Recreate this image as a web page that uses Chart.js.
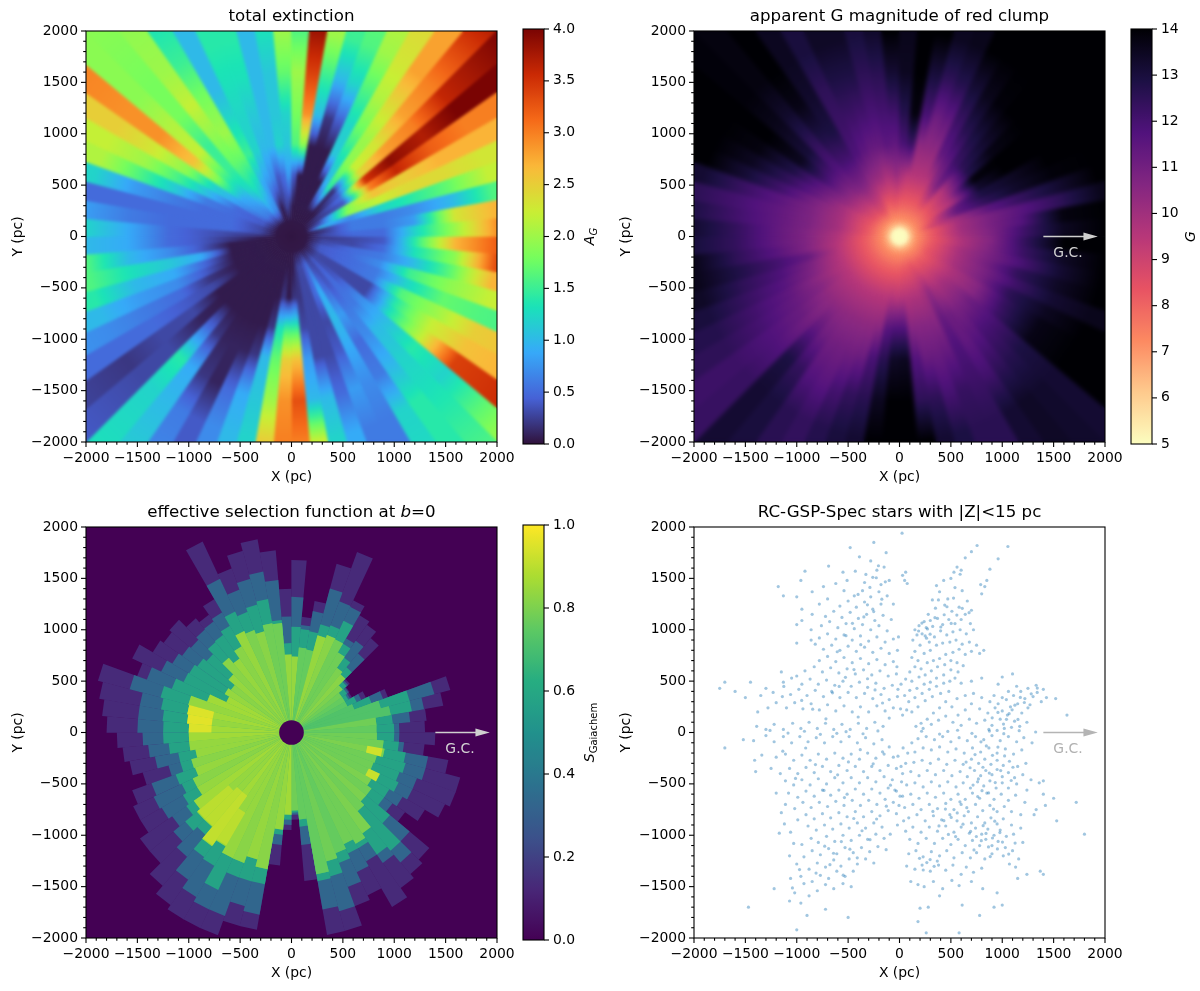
<!DOCTYPE html>
<html>
<head>
<meta charset="utf-8">
<title>Red clump maps</title>
<script src="https://cdn.jsdelivr.net/npm/chart.js@4"></script>
<style>
  body { margin: 0; background: #fff; }
  canvas { position: absolute; }
</style>
</head>
<body>
<canvas id="extinction" width="530" height="495" style="left:0;top:0"></canvas>
<canvas id="extinctionBar" width="90" height="495" style="left:510px;top:0"></canvas>
<canvas id="magnitude" width="530" height="495" style="left:608px;top:0"></canvas>
<canvas id="magnitudeBar" width="82" height="495" style="left:1118px;top:0"></canvas>
<canvas id="selection" width="530" height="495" style="left:0;top:496px"></canvas>
<canvas id="selectionBar" width="90" height="495" style="left:510px;top:496px"></canvas>
<canvas id="stars" width="530" height="495" style="left:608px;top:496px"></canvas>
<script>
// one value per 5 degree sector, counter-clockwise from +X
const sectorAngles = Array.from({ length: 72 }, (_, i) => 2.5 + 5 * i);

// total extinction A_G read along each sector
const extinctionAt300 = [.3,.2,.2,1,.4,.3,.2,.2,.05,.05,.05,.05, .05,.05,.05,.05,.05,.05,.2,.3,.2,.05,.2,.7, .7,.8,.6,.6,.6,.5,.4,.4,.3,.3,.3,.2, .05,.05,.05,.05,.05,.05,.05,.05,.05,.05,.05,.05, .05,.05,.05,.05,.05,.05,.05,.2,.3,.3,.4,.5, .3,.3,.4,.3,.3,.3,.4,.4,.4,.3,.3,.2];
const extinctionAt600 = [.5,.6,.6,.7,1.9,1.8,.4,.5,.4,.2,1.4,.9, .05,.05,.05,.05,.05,.4,.8,.5,.4,.7,.8,.9, 1.2,1.3,1.2,1,.9,.8,.5,.5,.5,.5,.5,.3, .2,.05,.05,.05,.05,.05,.05,.05,.05,.05,.05,.05, .05,.05,.05,.05,.2,.05,.2,.2,.3,.3,.5,.9, .5,.4,.5,.4,.3,.3,.5,.5,.5,.5,.3,.3];
const extinctionAt900 = [.5,.6,.6,1.2,2.2,2.6,3,3.5,2.4,2.2,1.9,1.3, 1.1,.05,.05,.05,1.9,1.6,1.1,1.2,1,1,1.2,1.5, 1.7,1.7,1.5,1.6,1.8,1.2,1,.6,.5,.5,.5,.4, .4,.4,.9,.5,.4,.2,.3,.05,.05,.05,.05,.05, .05,.05,.05,.2,1.3,1.5,1.5,.3,.3,.3,.3,1, .8,.6,.6,.7,.3,.3,.6,.6,.7,.6,.5,.4];
const extinctionAt1200 = [1.2,.8,.7,1.4,2.4,2.5,3.6,3.9,2.8,2.3,2,1.7, 1.2,.4,.2,1,2.9,1.8,1.2,1.1,1,1.1,1.2,1.3, 2,1.9,1.5,2.2,2.6,1.9,1.5,1.1,.6,.5,.5,.5, .5,.7,1.1,.9,.7,.5,.4,.3,.1,.5,.2,.1, .1,.1,.2,1,1.7,2.5,2.6,.8,.3,.3,.4,.9, .5,.7,1,1,1.3,1.4,1.6,1.2,1.5,1,1.3,1.4];
const extinctionAt1600 = [2,2.3,1,1.7,2.4,2.7,3.2,3.7,3,2.8,2.4,2.1, 1.6,1.2,1,1.5,3.4,2,1.7,1.1,1,1.3,1.3,1, 1.8,2.2,1.8,2.1,2.9,2.3,2,1.6,.8,.5,.6,.9, .9,1,1.3,1,.8,.6,.5,.3,.3,1.4,.9,.2, .1,.5,.9,1.1,2,2.9,3.3,1,1,.5,.8,.7, .6,1,1.2,1.4,2.2,2.2,2,1.7,1.9,1.7,1.9,2.7];
const extinctionAt2000 = [2.9,2.7,1.6,2.2,2.3,2.7,3,4,3.6,3,2.8,2.3, 2,1.6,1.5,2,3.8,1.6,2,1.3,1,1.4,1.4,1, 1.5,2,1.8,1.9,2.9,2.5,2.2,2.1,1.2,.5,.8,1.2, 1,1.6,1.6,1.4,1,.7,.5,.2,.3,1.2,1,.6, .4,.7,1,1.2,2.5,3,3,2.2,1.2,.9,.6,.6, 1.2,1.4,1.3,1.2,3.4,2.6,2.5,1.6,2.2,2.7,3.3,3.2];
const extinctionAt2830 = [3,2.7,1.6,2.2,2.3,2.7,3,4,4,3.7,2.8,2.5, 2.3,1.8,1.6,2,3.8,1.6,2,1.3,1,1.4,1.4,1, 1.2,1.9,1.9,1.9,3,2.5,2.2,2.1,1.3,.6,.9,1.3, 1,1.6,1.6,1.4,1,.8,.5,.3,.4,1.3,1.2,.7, .4,.7,1,1.2,2.5,3,3,2.2,1.2,.9,.6,.6, 1.3,1.4,1.6,2,3.6,2.8,2.7,1.5,2.4,2.7,3.3,3.2];

// apparent G magnitude read along each sector
const magnitudeAt300 = [8.2,8.1,8.1,8.9,8.3,8.2,8.1,8.1,8,8,8,8, 8,8,8,8,8,8,8.1,8.2,8.1,8,8.1,8.6, 8.6,8.7,8.5,8.5,8.5,8.4,8.3,8.3,8.2,8.2,8.2,8.1, 8,8,8,8,8,8,8,8,8,8,8,8, 8,8,8,8,8,8,8.1,8.2,8.2,8.3,8.4,8.2, 8.2,8.3,8.2,8.2,8.2,8.3,8.3,8.3,8.2,8.2,8.1,8.1];
const magnitudeAt600 = [9.9,10,10,10.1,11.3,11.2,9.8,9.9,9.8,9.6,10.8,10.3, 9.5,9.5,9.5,9.5,9.5,9.8,10.2,9.9,9.8,10.1,10.2,10.3, 10.6,10.7,10.6,10.4,10.3,10.2,9.9,9.9,9.9,9.9,9.9,9.7, 9.6,9.5,9.5,9.5,9.5,9.5,9.5,9.5,9.5,9.5,9.5,9.5, 9.5,9.5,9.5,9.5,9.6,9.5,9.6,9.6,9.7,9.7,9.9,10.3, 9.9,9.8,9.9,9.8,9.7,9.7,9.9,9.9,9.9,9.9,9.7,9.7];
const magnitudeAt900 = [10.8,10.9,10.9,11.5,12.5,12.9,13.3,13.8,12.7,12.5,12.2,11.6, 11.4,10.4,10.4,10.4,12.2,11.9,11.4,11.5,11.3,11.3,11.5,11.8, 12,12,11.8,11.9,12,11.5,11.3,10.9,10.8,10.8,10.8,10.7, 10.7,10.7,11.2,10.8,10.7,10.5,10.6,10.4,10.4,10.4,10.4,10.4, 10.4,10.4,10.4,10.5,11.6,11.8,11.8,10.6,10.6,10.6,10.6,11.3, 11.1,10.9,10.9,11,10.6,10.6,10.9,10.9,11,10.9,10.8,10.7];
const magnitudeAt1200 = [12.1,11.7,11.6,12.3,13.3,13.4,14,14,13.7,13.2,12.9,12.6, 12.1,11.3,11.1,11.9,13.8,12.7,12.1,12,11.9,12,12.1,12.2, 12.9,12.8,12.4,13.1,13.5,12.8,12.4,12,11.5,11.4,11.4,11.4, 11.4,11.6,12,11.8,11.6,11.4,11.3,11.2,11,11.4,11.1,11, 11,11,11.1,11.9,12.6,13.4,13.5,11.7,11.2,11.2,11.3,11.8, 11.4,11.6,11.9,11.9,12.2,12.3,12.5,12.1,12.4,11.9,12.2,12.3];
const magnitudeAt1600 = [13.5,13.8,12.5,13.2,13.9,14,14,14,14,14,13.9,13.6, 13.1,12.7,12.5,13,14,13.5,13.2,12.6,12.5,12.8,12.8,12.5, 13.3,13.7,13.3,13.6,14,13.8,13.5,13.1,12.3,12,12.1,12.4, 12.4,12.5,12.8,12.5,12.3,12.1,12,11.8,11.8,12.9,12.4,11.7, 11.6,12,12.4,12.6,13.5,14,14,12.5,12.5,12,12.3,12.2, 12.1,12.5,12.7,12.9,13.7,13.7,13.5,13.2,13.4,13.2,13.4,14];
const magnitudeAt2000 = [14,14,13.6,14,14,14,14,14,14,14,14,14, 14,13.6,13.5,14,14,13.6,14,13.3,13,13.4,13.4,13, 13.5,14,13.8,13.9,14,14,14,14,13.2,12.5,12.8,13.2, 13,13.6,13.6,13.4,13,12.7,12.5,12.2,12.3,13.2,13,12.6, 12.4,12.7,13,13.2,14,14,14,14,13.2,12.9,12.6,12.6, 13.2,13.4,13.3,13.2,14,14,14,13.6,14,14,14,14];

// selection function: distance (pc) at which each level is lost
const selectionReach13 = [1300,1320,1500,1600,1000,800,680,690,740,1200,1280,1320, 1420,1870,1700,1300,1130,1680,1400,1780,1910,1830,1700,2050, 1500,1400,1450,1550,1520,1560,1710,1600,1950,1900,1850,1800, 1700,1650,1600,1500,1650,1700,1700,1800,1800,1950,2050,2100, 2100,2100,1950,1950,1300,950,850,1450,2000,2000,1800,1750, 1960,1850,1800,1750,1350,1500,1650,1700,1700,1550,1300,1400];
const selectionReach33 = [1050,1160,1310,1440,950,750,660,680,720,1005,1090,1060, 1350,1360,1450,1200,1050,1320,1130,1490,1590,1550,1480,1650, 1350,1320,1310,1280,1300,1340,1400,1500,1630,1500,1500,1500, 1450,1400,1350,1240,1450,1480,1460,1420,1500,1580,1750,1850, 1900,1900,1750,1800,1100,900,800,1100,1750,1800,1600,1500, 1450,1550,1650,1500,1200,1250,1300,1300,1350,1350,1100,1050];
const selectionReach58 = [1000,990,1190,1190,830,700,640,660,700,830,890,1000, 1200,1110,1090,1000,1010,1030,870,1100,1320,1290,1250,1300, 1200,1160,1150,1080,1120,1150,1160,1240,1320,1290,1260,1250, 1250,1200,1120,1120,1200,1180,1220,1250,1350,1300,1480,1500, 1690,1500,1500,1500,1000,850,780,920,1470,1450,1350,1300, 1300,1450,1500,1250,1100,1100,1150,1120,1150,1130,1050,1000];
const selectionReach72 = [830,830,980,900,650,600,600,600,650,740,770,900, 1000,1010,980,820,830,740,760,1070,1080,1020,1060,1090, 970,880,950,800,720,750,700,875,1040,1030,1020,1000, 1000,1000,950,1010,1000,1060,1060,1160,1200,1200,1350,1280, 1350,1350,1280,1350,950,800,760,850,1400,1300,1250,1200, 1250,1200,1000,950,950,900,850,850,860,920,900,830];
const selectionInner = [.76,.78,.72,.72,.72,.74,.76,.78,.8,.82,.8,.78, .78,.82,.84,.76,.76,.84,.84,.78,.78,.82,.8,.84, .82,.84,.82,.84,.82,.84,.86,.86,.84,.86,.84,.86, .86,.84,.84,.82,.84,.82,.84,.86,.84,.84,.86,.84, .84,.82,.84,.82,.84,.86,.78,.76,.76,.78,.76,.78, .78,.8,.78,.8,.78,.8,.78,.78,.78,.8,.78,.78];
const selectionOuterLevels = [.13, .33, .58, .72];
// the few brighter patches
const patchSector = [33, 34, 35, 69, 66, 44, 45, 46, 47];
const patchFrom = [780, 780, 780, 750, 830, 800, 750, 750, 900];
const patchTo = [1030, 1020, 1000, 900, 950, 1190, 1190, 1340, 1270];
const patchLevel = [.95, .96, .95, .93, .92, .9, .9, .91, .9];
const selectionHole = 120;

// arrow towards the galactic centre
const arrowLineX = [1400, 1800];
const arrowLineY = [0, 0];
const arrowHeadX = [1790, 1930, 1790];
const arrowHeadY = [38, 0, -38];
const arrowTextX = 1640;
const arrowTextY = -165;

// RC-GSP-Spec stars, x,y pairs per quadrant (pc)
const starsNE = [25,1940,755,1820,1055,1810,700,1760,960,1690,640,1700,560,1610,600,1580,530,1560,590,1540,60,1560,30,1530,50,1480,75,1450,880,1590,850,1480,830,1420,800,1350,790,1440,500,1500,430,1480,360,1430,320,1290,390,1370,470,1300,540,1410,610,1380,660,1280,700,1190,640,1150,580,1220,510,1180,440,1240,350,1210,280,1150,240,1080,190,1040,150,1000,130,900,170,950,220,960,260,1020,300,1090,370,1110,420,1050,480,1100,540,1060,600,1100,690,1060,720,1000,650,960,590,1000,520,980,460,950,400,990,340,930,290,880,250,940,200,850,150,790,120,730,180,700,240,770,300,800,360,850,420,870,490,880,550,900,610,860,680,880,750,850,820,800,780,770,700,790,640,760,580,810,520,780,450,760,390,720,330,700,270,680,210,620,150,640,100,590,60,520,120,500,190,540,250,560,310,600,370,640,440,660,500,700,560,680,620,650,570,590,500,610,430,560,360,530,300,490,240,470,170,430,100,410,50,360,90,300,150,340,220,380,290,420,360,450,430,480,490,500,540,530,600,480,180,250,120,200,70,220,250,310,320,350,400,380,480,400,700,500,800,530,960,470,1000,540,1100,570,560,330,640,360,720,380,800,340,880,300,960,280,1040,320,1110,360,1180,400,1250,430,1340,390,1400,420,1300,350,1220,330,1150,280,1080,250,1000,210,930,240,860,190,780,230,700,280,640,220,570,170,510,250,450,300,390,240,330,190,270,130,210,90,160,60,230,40,310,80,380,120,450,160,520,100,600,70,680,130,750,90,830,120,900,70,980,130,1050,170,1120,110,1190,190,1250,240,1090,50,1020,40,950,20,870,30,1170,60,1240,100,1000,340,920,360,1060,400,1140,450,1330,460,1270,270,1430,340,1380,300,1520,330,1630,170];
const starsSE = [120,-100,180,-60,260,-40,340,-70,420,-40,500,-90,580,-50,660,-80,740,-40,820,-70,900,-30,980,-80,1060,-40,1140,-90,1210,-50,1290,-100,150,-190,80,-200,230,-150,310,-170,390,-140,470,-190,550,-160,630,-200,710,-150,790,-190,870,-150,950,-200,1030,-160,1110,-210,1190,-170,60,-300,140,-290,220,-270,300,-300,380,-260,460,-310,540,-270,620,-310,700,-260,770,-300,830,-260,890,-310,950,-270,1010,-320,1070,-280,1150,-330,1230,-300,30,-400,110,-380,190,-420,270,-370,350,-410,430,-370,510,-420,590,-380,660,-430,730,-370,790,-420,840,-370,900,-410,950,-360,1000,-430,1060,-390,1120,-440,1200,-410,1280,-460,1400,-470,70,-510,150,-490,230,-530,310,-480,390,-520,470,-480,550,-530,620,-490,690,-540,760,-480,820,-520,880,-470,940,-540,1000,-490,1060,-540,1140,-500,1240,-560,1360,-490,1400,-600,30,-620,110,-600,190,-640,270,-590,350,-630,430,-590,500,-650,570,-600,640,-650,710,-590,780,-640,850,-590,920,-650,990,-600,1060,-660,1130,-610,1220,-680,1330,-750,1420,-710,1500,-640,50,-730,130,-700,210,-750,290,-700,370,-740,450,-690,530,-750,600,-700,670,-770,740,-700,810,-760,880,-710,950,-770,1020,-720,1090,-770,1180,-800,1310,-800,1530,-860,1720,-680,1800,-990,90,-830,170,-800,250,-860,330,-810,410,-850,490,-800,560,-860,630,-810,700,-880,760,-820,830,-880,890,-830,950,-890,1010,-840,1090,-900,1180,-930,130,-920,210,-970,290,-920,370,-960,450,-910,530,-970,600,-920,680,-980,740,-930,800,-990,860,-940,920,-1000,980,-950,1040,-1010,1110,-990,1200,-1070,100,-1040,180,-1080,260,-1030,340,-1080,420,-1030,500,-1090,570,-1040,640,-1100,710,-1050,780,-1100,840,-1040,900,-1100,960,-1060,1030,-1120,1100,-1150,1160,-1230,90,-1180,160,-1150,230,-1210,310,-1160,390,-1200,460,-1150,530,-1220,610,-1170,690,-1220,750,-1170,830,-1230,900,-1180,1010,-1200,1070,-1280,1130,-1310,1240,-1380,1370,-1350,1400,-1380,70,-1300,150,-1330,220,-1290,300,-1350,380,-1290,450,-1340,520,-1290,600,-1380,650,-1310,720,-1360,800,-1320,1150,-1420,110,-1450,180,-1480,240,-1500,330,-1450,420,-1520,510,-1440,580,-1490,700,-1450,810,-1520,950,-1560,200,-1710,280,-1700,390,-1590,610,-1680,780,-1780,920,-1700,180,-1840,260,-1950,580,-1950,1000,-1680];
const starsSW = [-100,-140,-170,-70,-250,-110,-330,-50,-410,-100,-490,-40,-570,-90,-650,-40,-730,-100,-810,-50,-890,-90,-970,-40,-1050,-100,-1130,-40,-1220,-90,-1300,-30,-1420,-80,-1520,-70,-1700,-150,-60,-240,-150,-210,-230,-250,-310,-200,-390,-260,-470,-210,-550,-250,-630,-200,-710,-260,-790,-210,-870,-270,-950,-220,-1030,-270,-1110,-210,-1200,-240,-1340,-220,-1410,-270,-30,-350,-110,-320,-190,-370,-270,-330,-350,-380,-430,-330,-510,-370,-590,-320,-670,-380,-750,-330,-830,-390,-910,-340,-990,-400,-1070,-350,-1160,-400,-1250,-350,-70,-460,-150,-430,-230,-480,-310,-440,-390,-490,-470,-440,-550,-490,-630,-440,-710,-500,-790,-450,-870,-510,-950,-460,-1030,-510,-1110,-470,-1400,-380,-30,-570,-110,-540,-190,-590,-270,-550,-350,-600,-430,-550,-510,-600,-590,-560,-670,-610,-750,-560,-830,-620,-910,-570,-990,-630,-1080,-590,-1200,-590,-60,-680,-140,-650,-220,-700,-300,-660,-380,-710,-460,-660,-540,-710,-620,-670,-700,-720,-780,-680,-860,-730,-940,-680,-1020,-740,-1110,-700,-1150,-780,-30,-790,-110,-760,-190,-810,-270,-770,-350,-820,-430,-770,-510,-820,-590,-780,-670,-830,-750,-790,-830,-840,-910,-800,-990,-850,-1120,-890,-170,-920,-250,-880,-330,-930,-410,-880,-490,-930,-570,-890,-650,-940,-730,-900,-810,-950,-890,-910,-1060,-970,-1170,-980,-90,-990,-150,-1030,-230,-990,-310,-1040,-390,-1000,-470,-1050,-550,-1000,-630,-1060,-710,-1010,-790,-1070,-860,-1030,-950,-1090,-1030,-1080,-1070,-1200,-130,-1140,-210,-1110,-290,-1160,-370,-1120,-450,-1170,-530,-1120,-610,-1180,-690,-1130,-770,-1190,-850,-1150,-930,-1210,-1000,-1280,-250,-1270,-330,-1230,-410,-1280,-490,-1230,-570,-1300,-640,-1240,-720,-1310,-800,-1270,-880,-1330,-960,-1400,-1060,-1420,-450,-1350,-530,-1400,-610,-1350,-690,-1420,-770,-1390,-850,-1450,-930,-1470,-1020,-1560,-1070,-1640,-470,-1500,-550,-1470,-640,-1520,-720,-1480,-800,-1540,-880,-1590,-1220,-1520,-1470,-1700,-960,-1660,-1000,-1920,-500,-1800,-720,-1720,-900,-1780];
const starsNW = [-100,140,-160,60,-240,100,-320,40,-400,90,-480,30,-560,80,-640,30,-720,90,-800,40,-880,100,-960,40,-1040,90,-1130,30,-1220,80,-1300,30,-1390,60,-60,240,-140,210,-220,260,-300,200,-380,250,-460,200,-540,260,-620,210,-700,270,-780,220,-860,280,-940,230,-1020,290,-1100,240,-1200,290,-1280,240,-1380,200,-20,350,-100,320,-180,370,-260,330,-340,380,-420,340,-500,390,-580,340,-660,400,-740,350,-820,410,-900,360,-980,420,-1060,370,-1140,350,-1230,390,-1350,360,-1500,340,-1600,400,-70,460,-150,430,-230,480,-310,440,-390,490,-470,450,-550,500,-630,460,-710,510,-790,470,-870,520,-950,470,-1050,530,-1130,490,-1300,430,-1450,490,-1700,490,-1750,430,-30,570,-110,550,-190,600,-270,560,-350,610,-430,570,-510,620,-590,580,-670,630,-750,590,-830,640,-920,600,-1000,550,-1150,590,-60,690,-140,660,-220,710,-300,670,-380,720,-460,680,-540,730,-620,690,-700,740,-780,700,-20,800,-100,770,-180,820,-260,780,-340,830,-420,790,-500,840,-580,800,-660,850,-740,810,-820,860,-60,910,-140,880,-220,930,-300,890,-380,940,-460,900,-540,950,-620,910,-700,960,-780,920,-860,900,-1000,870,-120,990,-200,1040,-280,1000,-360,1050,-440,1010,-520,1060,-600,1020,-680,1080,-760,1040,-860,1000,-1000,1050,-80,1100,-160,1140,-240,1090,-320,1150,-400,1110,-480,1170,-560,1120,-640,1180,-720,1130,-850,1150,-950,1090,-180,1250,-260,1200,-340,1270,-420,1220,-500,1280,-580,1230,-700,1300,-780,1250,-950,1200,-60,1250,-120,1330,-200,1370,-280,1320,-360,1380,-440,1330,-540,1380,-620,1450,-740,1420,-850,1370,-1180,1420,-1130,1330,-1000,1320,-100,1480,-180,1440,-260,1510,-340,1460,-430,1570,-550,1560,-920,1570,-960,1480,-150,1610,-220,1580,-280,1670,-390,1710,-480,1800,-250,1850,-130,1750,-510,1480,-690,1620];
// extra stars along the axes and in the crowded patches
const starsAxes = [-15,-230,20,-480,-5,-710,40,-860,15,-330,-45,-560,5,-620,35,-150,-20,-900,60,-960,-210,15,-355,-12,-520,8,-770,-18,-925,12,-1085,-6,-1260,20,-610,-8,215,12,390,-15,565,22,705,-8,875,14,1015,-11,1165,18,1325,5,470,10,10,230,-15,420,30,170,-25,640,15,470,-10,930];
const starsCrowdSE = [735,-215,812,-338,768,-452,905,-222,845,-131,932,-487,687,-343,874,-395,1023,-228,1087,-467,958,-142,716,-512,803,-566,648,-288,1104,-338,793,-91,867,-588,985,-371,761,-624,915,-745,842,-982,796,-1053,905,-1027,748,-1012,866,-1114,953,-1133,692,-963,1002,-1066,814,-907,927,-863,1063,-1183,1125,-1076,977,-974,725,-1143,883,-1208,503,-827,447,-745,562,-783,618,-892,384,-909,476,-992,546,-1013,325,-768,655,-732,432,-858,588,-675,266,-1266,298,-1237,337,-1302,231,-1338,368,-1251,195,-1225];
const starsCrowdNE = [218,1065,272,1008,323,1032,263,918,345,1118,402,1027,186,988,298,957,435,1146,503,1062,558,1143,611,1209,677,1166,462,1224,379,1290,526,1308,1012,82,1067,183,1123,266,1176,341,958,195,1041,128,1096,221,902,143,1153,127,1215,292,1282,376,1341,432];
const starsCrowdW = [-312,1243,-288,1412,-226,1506,-347,1125,-172,1298,-251,1177,-403,1344,-138,1466,-205,1623,-327,1538,-458,1063,-521,942,-606,786,-377,855,-443,612,-526,537,-587,448,-652,386,-311,523,-238,414,-165,287,-402,151,-716,133,-845,227,-952,312,-1126,448,-483,-1136,-566,-1062,-411,-1220,-642,-1175,-287,-1043,-365,-956,-445,-837,-223,-842,-128,-717,-536,-633,-602,-412,-497,-286,-382,-167,-256,-305,-735,-564,-818,-312,-913,-151,-1012,-447,-1136,-182,-677,-1286,-812,-1368,-973,-1334,-1042,-1513,-548,-1389,-728,-1106,-88,-513,-165,-188];

const axisTicks = [-2000, -1500, -1000, -500, 0, 500, 1000, 1500, 2000];

const turboStops = ['#30123b', '#4662d7', '#36aaf9', '#1ae4b6', '#72fe5e', '#c8ef34', '#faba39', '#f66b19', '#cb2a04', '#7a0403'];
const magmaStops = ['#000004', '#1c1044', '#51127c', '#832681', '#b73779', '#e75263', '#fc8961', '#feca8d', '#fcfdbf'];
const viridisStops = ['#440154', '#482878', '#3b528b', '#2c728e', '#21918c', '#27ad81', '#5ec962', '#aadc32', '#fde725'];

Chart.defaults.font.family = '"DejaVu Sans"';
Chart.defaults.font.size = 13.9;
Chart.defaults.color = '#000';
Chart.defaults.animation = false;

function colorOf(stops, t) {
  t = Math.min(1, Math.max(0, t)) * (stops.length - 1);
  const i = Math.min(stops.length - 2, Math.floor(t));
  const a = stops[i], b = stops[i + 1], f = t - i;
  const ch = (s, k) => parseInt(s.substr(1 + 2 * k, 2), 16);
  const mix = k => Math.round(ch(a, k) + (ch(b, k) - ch(a, k)) * f);
  return `rgb(${mix(0)},${mix(1)},${mix(2)})`;
}

function pairs(list) {
  const out = [];
  for (let i = 0; i < list.length; i += 2) out.push({ x: list[i], y: list[i + 1] });
  return out;
}

function polar(r, deg) {
  const a = deg * Math.PI / 180;
  return { x: r * Math.cos(a), y: r * Math.sin(a) };
}

function wedge(angle, rFrom, rTo, half) {
  return [polar(rFrom, angle - half), polar(rTo, angle - half), polar(rTo, angle + half), polar(rFrom, angle + half)];
}

function shapeDataset(data, color) {
  return { data, showLine: true, fill: 'shape', backgroundColor: color, borderWidth: 0, pointRadius: 0 };
}

// radial gradient along one sector, goes through the colormap between read values
function rayFill(radii, values, toColor) {
  return ctx => {
    const { x, y } = ctx.chart.scales;
    const cx = x.getPixelForValue(0), cy = y.getPixelForValue(0);
    const last = radii[radii.length - 1];
    const outer = x.getPixelForValue(last) - cx;
    // scales are not laid out yet on the first resolve
    if (!Number.isFinite(cx) || !Number.isFinite(cy) || !Number.isFinite(outer)) return '#000';
    const g = ctx.chart.ctx.createRadialGradient(cx, cy, 0, cx, cy, outer);
    for (let i = 0; i < radii.length - 1; i++) {
      for (let s = 0; s < 5; s++) {
        const f = s / 5;
        g.addColorStop((radii[i] + (radii[i + 1] - radii[i]) * f) / last, toColor(values[i] + (values[i + 1] - values[i]) * f));
      }
    }
    g.addColorStop(1, toColor(values[values.length - 1]));
    return g;
  };
}

function drawParts(ctx, parts, x, y, size, center) {
  const fontOf = p => `${p.italic ? 'italic ' : ''}${p.size || size}px "DejaVu Sans"`;
  let width = 0;
  parts.forEach(p => { ctx.font = fontOf(p); width += ctx.measureText(p.text).width; });
  let at = center ? x - width / 2 : x;
  parts.forEach(p => {
    ctx.font = fontOf(p);
    ctx.fillText(p.text, at, y + (p.drop || 0));
    at += ctx.measureText(p.text).width;
  });
}

// frame, tick marks, titles and small text the library has no place for
const decor = {
  id: 'decor',
  beforeDraw(chart, args, opts) {
    if (!opts.background) return;
    const a = chart.chartArea;
    chart.ctx.fillStyle = opts.background;
    chart.ctx.fillRect(a.left, a.top, a.width, a.height);
  },
  afterDatasetDraw(chart, args, opts) {
    if (!opts.blur || args.index !== opts.blurAfter) return;
    const ctx = chart.ctx, a = chart.chartArea;
    ctx.save();
    ctx.beginPath();
    ctx.rect(a.left, a.top, a.width, a.height);
    ctx.clip();
    ctx.filter = `blur(${opts.blur}px)`;
    ctx.drawImage(chart.canvas, a.left, a.top, a.width, a.height, a.left, a.top, a.width, a.height);
    ctx.restore();
  },
  afterDraw(chart, args, opts) {
    const ctx = chart.ctx, a = chart.chartArea, { x, y } = chart.scales;
    ctx.save();
    ctx.strokeStyle = '#000';
    ctx.fillStyle = '#000';
    ctx.lineWidth = 1.1;
    ctx.strokeRect(a.left, a.top, a.width, a.height);
    if (opts.colorbar) {
      y.ticks.forEach(t => {
        const p = y.getPixelForValue(t.value);
        ctx.beginPath(); ctx.moveTo(a.right, p); ctx.lineTo(a.right + 5, p); ctx.stroke();
      });
      ctx.translate(opts.labelX, (a.top + a.bottom) / 2);
      ctx.rotate(-Math.PI / 2);
      ctx.textBaseline = 'alphabetic';
      drawParts(ctx, opts.label, 0, 0, 13.9, true);
      ctx.restore();
      return;
    }
    for (let v = -2000; v <= 2000; v += 100) {
      const len = v % 500 === 0 ? 5 : 2.8;
      const px = x.getPixelForValue(v), py = y.getPixelForValue(v);
      ctx.beginPath(); ctx.moveTo(px, a.bottom); ctx.lineTo(px, a.bottom + len); ctx.stroke();
      ctx.beginPath(); ctx.moveTo(a.left, py); ctx.lineTo(a.left - len, py); ctx.stroke();
    }
    ctx.textBaseline = 'alphabetic';
    drawParts(ctx, opts.title, (a.left + a.right) / 2, a.top - 10, 16.67, true);
    if (opts.arrowColor) {
      ctx.fillStyle = opts.arrowColor;
      ctx.textBaseline = 'middle';
      drawParts(ctx, [{ text: 'G.C.' }], x.getPixelForValue(arrowTextX), y.getPixelForValue(arrowTextY), 13.9, true);
    }
    ctx.restore();
  }
};

function arrowDatasets(color) {
  return [
    { data: arrowLineX.map((x, i) => ({ x, y: arrowLineY[i] })), showLine: true, borderColor: color, borderWidth: 1.4, pointRadius: 0 },
    shapeDataset(arrowHeadX.map((x, i) => ({ x, y: arrowHeadY[i] })), color)
  ];
}

// sits under the wedge tips so no white shows where they meet
function coreDataset(color, radius) {
  return { data: [{ x: 0, y: 0 }], backgroundColor: color, borderWidth: 0, pointRadius: radius };
}

function panelChart(id, datasets, decorOpts) {
  const tickLabel = v => String(v).replace('-', '\u2212');
  const axis = (title, fit) => ({
    type: 'linear', min: -2000, max: 2000,
    afterBuildTicks: s => { s.ticks = axisTicks.map(value => ({ value })); },
    afterFit: fit,
    grid: { display: false, drawTicks: false }, border: { display: false },
    ticks: { callback: tickLabel, padding: 8, maxRotation: 0, autoSkip: false },
    title: { display: true, text: title, padding: 0, font: { size: 13.9 } }
  });
  return new Chart(document.getElementById(id), {
    type: 'scatter',
    data: { datasets },
    plugins: [decor],
    options: {
      responsive: false,
      layout: { padding: { left: 10, top: 31, right: 33, bottom: 9 } },
      scales: {
        x: axis('X (pc)', s => { s.height = 44; }),
        y: axis('Y (pc)', s => { s.width = 76; })
      },
      plugins: { legend: { display: false }, tooltip: { enabled: false }, decor: decorOpts }
    }
  });
}

function colorbarChart(id, min, max, step, digits, stops, labelX, label, width) {
  const fill = ctx => {
    const { y } = ctx.chart.scales;
    const from = y.getPixelForValue(min), to = y.getPixelForValue(max);
    if (!Number.isFinite(from) || !Number.isFinite(to)) return '#000';
    const g = ctx.chart.ctx.createLinearGradient(0, from, 0, to);
    for (let i = 0; i <= 64; i++) g.addColorStop(i / 64, colorOf(stops, i / 64));
    return g;
  };
  const cornerX = [0, 1, 1, 0], cornerY = [min, min, max, max];
  return new Chart(document.getElementById(id), {
    type: 'scatter',
    data: { datasets: [shapeDataset(cornerX.map((x, i) => ({ x, y: cornerY[i] })), fill)] },
    plugins: [decor],
    options: {
      responsive: false,
      layout: { padding: { left: 13, top: 29, right: 0, bottom: 51 } },
      scales: {
        x: { type: 'linear', min: 0, max: 1, display: false },
        y: {
          type: 'linear', position: 'right', min, max,
          afterFit: s => { s.width = width - 34; },
          grid: { display: false, drawTicks: false }, border: { display: false },
          ticks: { stepSize: step, padding: 9, callback: v => v.toFixed(digits) }
        }
      },
      plugins: { legend: { display: false }, tooltip: { enabled: false }, decor: { colorbar: true, labelX, label } }
    }
  });
}

// total extinction
const extinctionRadii = [0, 150, 300, 600, 900, 1200, 1600, 2000, 2830];
const extinctionColor = v => colorOf(turboStops, v / 4);
panelChart('extinction', [...sectorAngles.map((angle, i) => {
  const values = [.03, .04, extinctionAt300[i], extinctionAt600[i], extinctionAt900[i], extinctionAt1200[i], extinctionAt1600[i], extinctionAt2000[i], extinctionAt2830[i]];
  return shapeDataset(wedge(angle, 0, 2900, 2.6), rayFill(extinctionRadii, values, extinctionColor));
}), coreDataset('#30123b', 16)], { title: [{ text: 'total extinction' }], blur: 1.6, blurAfter: 0 });
colorbarChart('extinctionBar', 0, 4, .5, 1, turboStops, 84, [{ text: 'A', italic: true }, { text: 'G', italic: true, size: 10, drop: 3 }], 90);

// apparent magnitude
const magnitudeRadii = [0, 70, 110, 170, 300, 600, 900, 1200, 1600, 2000];
const magnitudeColor = v => colorOf(magmaStops, (14 - v) / 9);
const magnitudeSets = sectorAngles.map((angle, i) => {
  const values = [5, 5, 6.4, 7.2, magnitudeAt300[i], magnitudeAt600[i], magnitudeAt900[i], magnitudeAt1200[i], magnitudeAt1600[i], magnitudeAt2000[i]];
  return shapeDataset(wedge(angle, 0, 2900, 2.6), rayFill(magnitudeRadii, values, magnitudeColor));
});
panelChart('magnitude', [...arrowDatasets('#cfcfcf'), ...magnitudeSets, coreDataset('#fcfdbf', 6)], { title: [{ text: 'apparent G magnitude of red clump' }], blur: 2.2, blurAfter: 2, arrowColor: '#d4d4d4' });
colorbarChart('magnitudeBar', 5, 14, 1, 0, [...magmaStops].reverse(), 77, [{ text: 'G', italic: true }], 82);

// selection function, first dataset is on top so inner levels come first
const selectionColor = v => colorOf(viridisStops, v);
const reachLists = [selectionReach72, selectionReach58, selectionReach33, selectionReach13];
const selectionSets = [
  { data: [{ x: 0, y: 0 }], backgroundColor: '#440154', borderWidth: 0,
    pointRadius: ctx => Math.abs(ctx.chart.scales.x.getPixelForValue(selectionHole) - ctx.chart.scales.x.getPixelForValue(0)) || 0 },
  ...patchSector.map((s, i) => shapeDataset(wedge(sectorAngles[s], patchFrom[i], patchTo[i], 2.55), selectionColor(patchLevel[i]))),
  ...sectorAngles.map((angle, i) => shapeDataset(wedge(angle, 0, selectionReach72[i], 2.55), selectionColor(selectionInner[i])))
];
[...selectionOuterLevels].reverse().forEach((level, k) => {
  sectorAngles.forEach((angle, i) => {
    selectionSets.push(shapeDataset(wedge(angle, 0, reachLists[k][i], 2.55), selectionColor(level)));
  });
});
panelChart('selection', [...arrowDatasets('#cfcfcf'), ...selectionSets], {
  title: [{ text: 'effective selection function at ' }, { text: 'b', italic: true }, { text: '=0' }],
  background: '#440154', arrowColor: '#d4d4d4'
});
colorbarChart('selectionBar', 0, 1, .2, 1, viridisStops, 84, [{ text: 'S', italic: true }, { text: 'Gaiachem', size: 10, drop: 3 }], 90);

// stars
panelChart('stars', [
  ...arrowDatasets('#b4b4b4'),
  { data: pairs([...starsNE, ...starsSE, ...starsSW, ...starsNW, ...starsAxes, ...starsCrowdSE, ...starsCrowdNE, ...starsCrowdW]), backgroundColor: 'rgba(31,119,180,0.42)', borderWidth: 0, pointRadius: 1.6 }
], { title: [{ text: 'RC-GSP-Spec stars with |Z|<15 pc' }], arrowColor: '#b0b0b0' });
</script>
</body>
</html>
